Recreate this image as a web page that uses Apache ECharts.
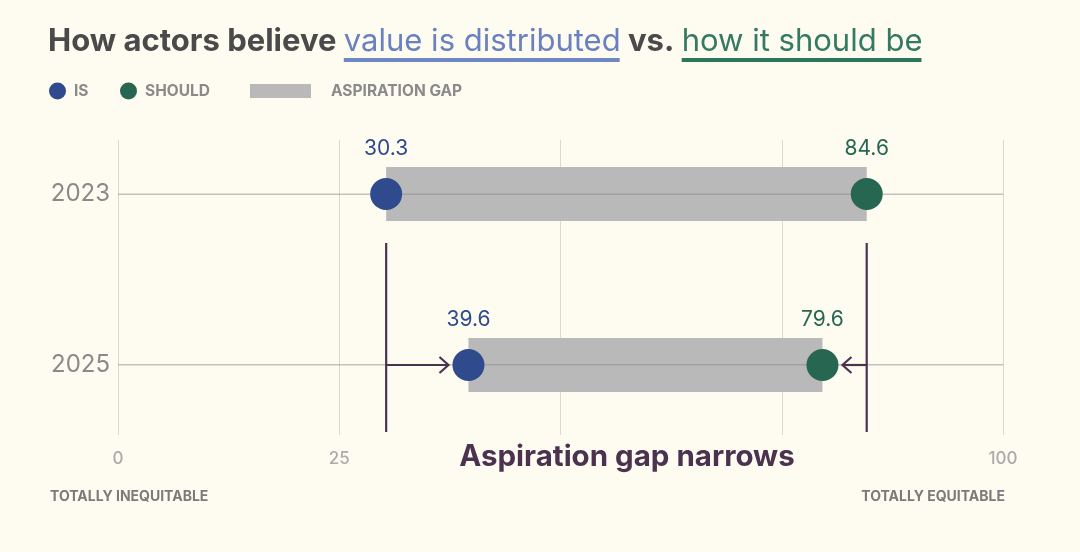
<!DOCTYPE html>
<html lang="en">
<head>
<meta charset="UTF-8" />
<title>Aspiration gap</title>
<style>
  body { margin: 0; padding: 0; background: #fefbf1; }
  .chart { width: 1080px; height: 552px; }
</style>
</head>
<body>
<div class="chart"></div>
<script src="https://cdn.jsdelivr.net/npm/echarts@6/dist/echarts.min.js"></script>
<script>
// data
const years = ['2023', '2025'];
const isValues = [30.3, 39.6];
const shouldValues = [84.6, 79.6];
const xTickLabels = [0, 25, 100]; // 50 and 75 sit under the note, not drawn

const FONT = 'Inter';
const IS_COLOR = '#2f4a8d';
const SHOULD_COLOR = '#276752';
const GAP_COLOR = '#b9b9b9';
const NOTE_COLOR = '#4b3350';
const MUTED = '#8a8a8a';

const gapValues = years.map((y, i) => +(shouldValues[i] - isValues[i]).toFixed(1));

// title with coloured underlined parts, widths measured so underlines fit
const titleParts = [
  { text: 'How actors believe ', color: '#4a4a4a', weight: 700 },
  { text: 'value is distributed', color: '#6a81c0', weight: 400, line: '#6f86c4' },
  { text: ' vs. ', color: '#4a4a4a', weight: 700 },
  { text: 'how it should be', color: '#347a62', weight: 400, line: '#2c765b' }
];
const ctx = document.createElement('canvas').getContext('2d');
function measure(size) {
  return titleParts.map(p => {
    ctx.font = p.weight + ' ' + size + 'px ' + FONT;
    return ctx.measureText(p.text).width;
  });
}
let titleSize = 30;
const rawW = measure(titleSize).reduce((a, b) => a + b, 0);
titleSize = Math.min(32, titleSize * 875 / rawW);
const partW = measure(titleSize);
const titleGraphic = [];
let cx = 48;
titleParts.forEach((p, i) => {
  titleGraphic.push({
    type: 'text', left: cx, top: 45 - titleSize * 0.6,
    style: { text: p.text, fill: p.color, font: p.weight + ' ' + titleSize + 'px ' + FONT }
  });
  if (p.line) {
    titleGraphic.push({
      type: 'rect', left: cx, top: 58,
      shape: { width: partW[i] - 1, height: 4 },
      style: { fill: p.line }
    });
  }
  cx += partW[i];
});

function renderNote(params, api) {
  const top = api.coord([isValues[0], 0]);
  const isOld = api.coord([isValues[0], 1]);
  const shOld = api.coord([shouldValues[0], 1]);
  const isNew = api.coord([isValues[1], 1]);
  const shNew = api.coord([shouldValues[1], 1]);
  const y0 = top[1] + 49, y1 = isOld[1] + 67, y = isOld[1];
  const tipL = isNew[0] - 20, tipR = shNew[0] + 20;
  const style = { stroke: NOTE_COLOR, lineWidth: 2.2, fill: null };
  return {
    type: 'group',
    children: [
      { type: 'line', shape: { x1: isOld[0], y1: y0, x2: isOld[0], y2: y1 }, style },
      { type: 'line', shape: { x1: shOld[0], y1: y0, x2: shOld[0], y2: y1 }, style },
      { type: 'line', shape: { x1: isOld[0], y1: y, x2: tipL, y2: y }, style },
      { type: 'polyline', shape: { points: [[tipL - 9, y - 8], [tipL, y], [tipL - 9, y + 8]] }, style },
      { type: 'line', shape: { x1: shOld[0], y1: y, x2: tipR, y2: y }, style },
      { type: 'polyline', shape: { points: [[tipR + 9, y - 8], [tipR, y], [tipR + 9, y + 8]] }, style }
    ]
  };
}

function dotSeries(name, values, color) {
  return {
    name, type: 'scatter', xAxisIndex: 0, yAxisIndex: 0, z: 6,
    symbol: 'circle', symbolSize: 32,
    itemStyle: { color, opacity: 1 },
    label: {
      show: true, position: 'top', distance: 19,
      formatter: p => p.value[0].toFixed(1),
      fontFamily: FONT, fontSize: 21, color
    },
    emphasis: { disabled: true },
    data: values.map((v, i) => [v, i])
  };
}

const legendBase = {
  top: 82.5, padding: 0, itemHeight: 17, itemWidth: 17,
  selectedMode: false,
  textStyle: { fontFamily: FONT, fontSize: 15.5, fontWeight: 700, color: MUTED, padding: [0, 0, 0, 3] }
};

const chart = echarts.init(document.querySelector('.chart'));
chart.setOption({
  backgroundColor: '#fefbf1',
  animation: false,
  textStyle: { fontFamily: FONT },
  title: [
    {
      text: 'Aspiration gap narrows', left: 627, top: 442, textAlign: 'center', padding: 0,
      textStyle: { fontFamily: FONT, fontSize: 29.5, fontWeight: 700, color: NOTE_COLOR }
    },
    {
      text: 'TOTALLY INEQUITABLE', left: 50, top: 490, padding: 0,
      textStyle: { fontFamily: FONT, fontSize: 14, fontWeight: 700, color: '#7b7b7b' }
    },
    {
      text: 'TOTALLY EQUITABLE', right: 75, top: 490, padding: 0,
      textStyle: { fontFamily: FONT, fontSize: 14, fontWeight: 700, color: '#7b7b7b' }
    }
  ],
  legend: [
    Object.assign({}, legendBase, { left: 49, data: [{ name: 'IS', icon: 'circle' }] }),
    Object.assign({}, legendBase, { left: 120, data: [{ name: 'SHOULD', icon: 'circle' }] }),
    Object.assign({}, legendBase, {
      left: 250, top: 83, itemWidth: 61, itemHeight: 14,
      data: [{ name: 'ASPIRATION GAP', icon: 'rect' }],
      textStyle: Object.assign({}, legendBase.textStyle, { padding: [0, 0, 0, 15] })
    })
  ],
  grid: [
    { left: 118, right: 77, top: 194, bottom: 187 },
    { left: 118, right: 77, top: 140, bottom: 117 }
  ],
  xAxis: [
    { gridIndex: 0, type: 'value', min: 0, max: 100, show: false },
    {
      gridIndex: 1, type: 'value', min: 0, max: 100, interval: 25,
      axisLine: { show: false }, axisTick: { show: false },
      splitLine: { show: true, lineStyle: { color: '#dcd8cc', width: 1 } },
      axisLabel: {
        margin: 15, fontFamily: FONT, fontSize: 17, fontWeight: 500, color: '#ababab',
        formatter: v => (xTickLabels.indexOf(v) >= 0 ? String(v) : '')
      }
    }
  ],
  yAxis: [
    {
      gridIndex: 0, type: 'category', data: years, inverse: true, boundaryGap: false,
      axisLine: { show: false }, axisTick: { show: false }, splitLine: { show: false },
      axisLabel: { margin: 8, fontFamily: FONT, fontSize: 24, color: MUTED }
    },
    { gridIndex: 1, type: 'value', min: 0, max: 1, show: false }
  ],
  graphic: titleGraphic,
  series: [
    {
      name: 'base', type: 'bar', stack: 'gap', barWidth: 54, silent: true,
      itemStyle: { color: 'transparent' }, data: isValues
    },
    {
      name: 'ASPIRATION GAP', type: 'bar', stack: 'gap', barWidth: 54, z: 2,
      itemStyle: { color: GAP_COLOR }, emphasis: { disabled: true }, data: gapValues
    },
    {
      name: 'track', type: 'line', z: 4, silent: true, symbol: 'none',
      lineStyle: { color: '#8a8a8a', width: 1.2 },
      data: years.flatMap((y, i) => [[0, i], [100, i], '-'])
    },
    {
      name: 'note', type: 'custom', z: 5, silent: true, clip: false,
      renderItem: renderNote, data: [[isValues[0], 0]]
    },
    dotSeries('IS', isValues, IS_COLOR),
    dotSeries('SHOULD', shouldValues, SHOULD_COLOR)
  ]
});
</script>
</body>
</html>
